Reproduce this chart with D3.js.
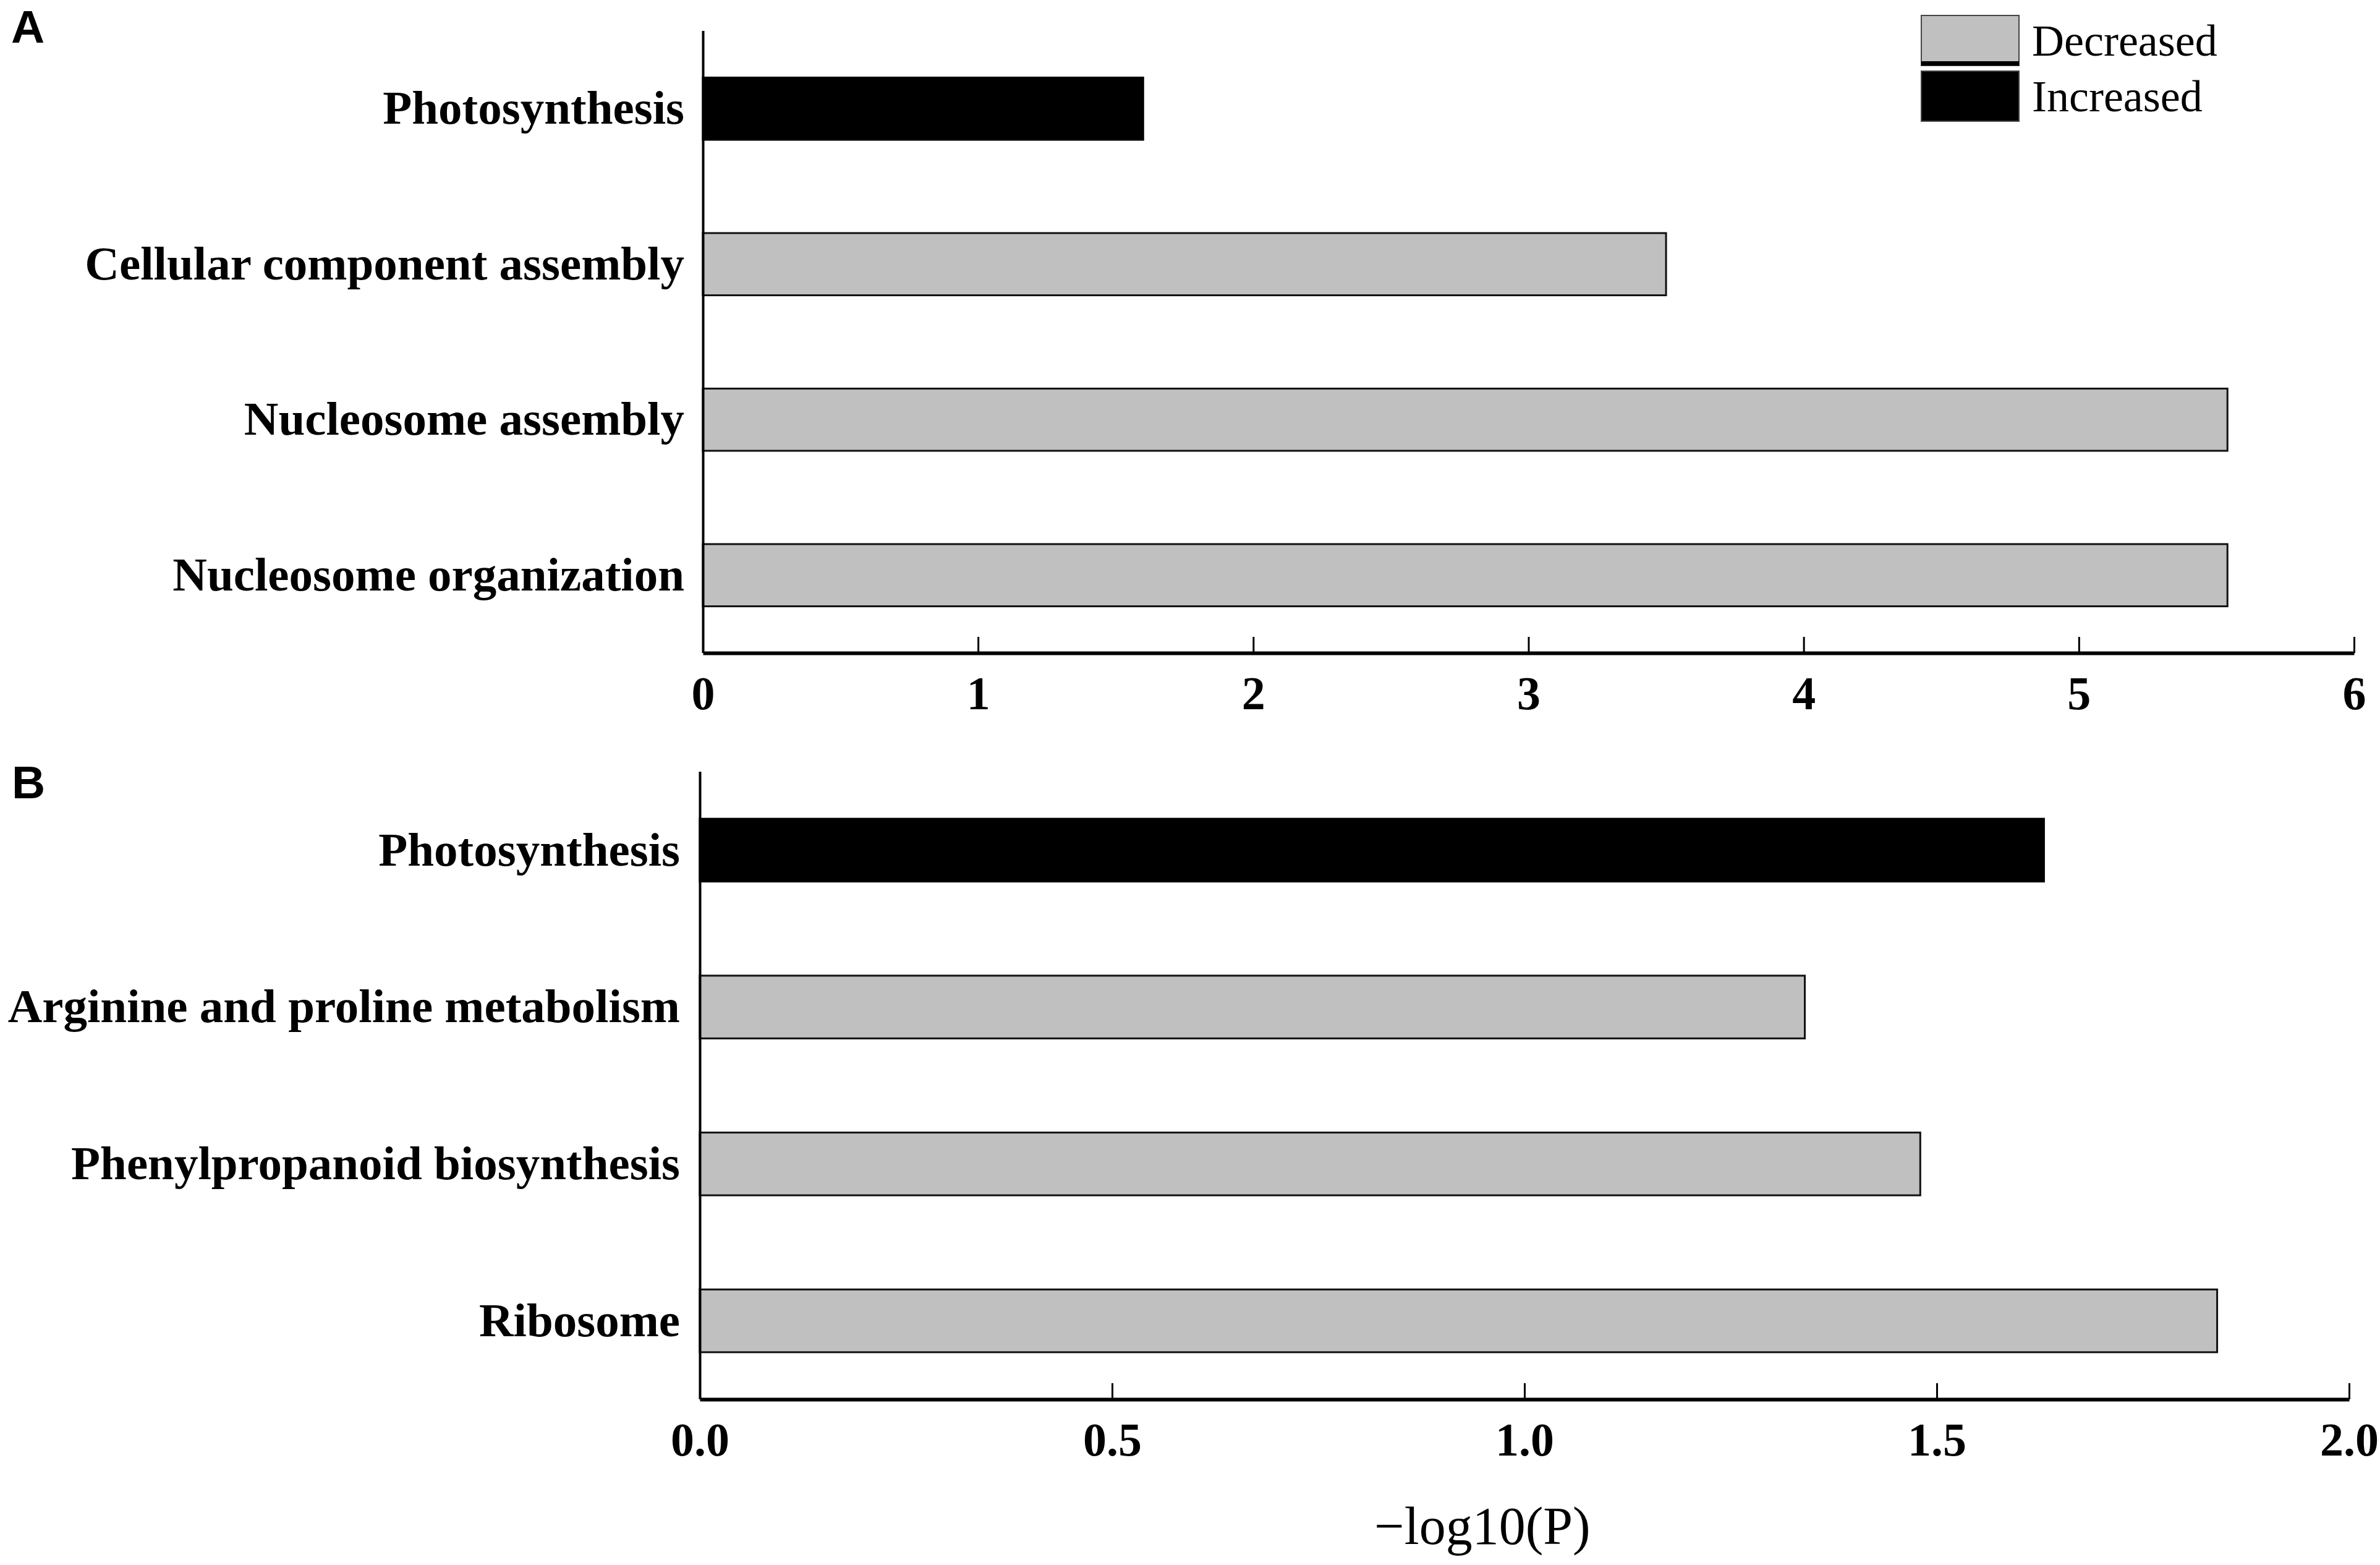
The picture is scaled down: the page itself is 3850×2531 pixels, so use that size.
<!DOCTYPE html>
<html>
<head>
<meta charset="utf-8">
<script src="https://cdn.jsdelivr.net/npm/d3@7"></script>
<style>
  body { margin: 0; background: #fff; }
  svg { display: block; }
</style>
</head>
<body>
<div id="plot"></div>
<script>
// Panel A: GO terms
const termsA = ["Photosynthesis", "Cellular component assembly", "Nucleosome assembly", "Nucleosome organization"];
const valuesA = [1.6, 3.5, 5.54, 5.54];
const changeA = ["Increased", "Decreased", "Decreased", "Decreased"];
const ticksA = [0, 1, 2, 3, 4, 5, 6];

// Panel B: KEGG pathways
const termsB = ["Photosynthesis", "Arginine and proline metabolism", "Phenylpropanoid biosynthesis", "Ribosome"];
const valuesB = [1.63, 1.34, 1.48, 1.84];
const changeB = ["Increased", "Decreased", "Decreased", "Decreased"];
const ticksB = [0, 0.5, 1.0, 1.5, 2.0];

const seriesNames = ["Decreased", "Increased"];
const seriesColors = ["#c0c0c0", "#000000"];

const W = 3850, H = 2531;
const serif = "'Liberation Serif', 'Times New Roman', serif";
const sans = "'Liberation Sans', Arial, sans-serif";

const color = d3.scaleOrdinal().domain(seriesNames).range(seriesColors);

const svg = d3.select("#plot")
  .append("svg")
  .attr("width", W)
  .attr("height", H);

function drawPanel(p) {
  const rows = p.terms.map((t, i) => ({ term: t, value: p.values[i], change: p.change[i] }));

  const x = d3.scaleLinear()
    .domain([0, d3.max(p.ticks)])
    .range([p.left, p.right]);

  const y = d3.scaleBand()
    .domain(p.terms)
    .range([p.top, p.bottom])
    .paddingInner(0.6)
    .paddingOuter(0.3);

  // bars
  svg.append("g").selectAll("rect")
    .data(rows)
    .enter()
    .append("rect")
    .attr("x", x(0))
    .attr("y", d => y(d.term))
    .attr("width", d => x(d.value) - x(0))
    .attr("height", y.bandwidth())
    .attr("fill", d => color(d.change))
    .attr("stroke", d => d.change === "Increased" ? "#000" : "#111")
    .attr("stroke-width", 3);

  // x axis, ticks pointing inward
  const xAxis = svg.append("g")
    .attr("transform", `translate(0, ${p.bottom})`)
    .call(d3.axisBottom(x)
      .tickValues(p.ticks)
      .tickFormat(p.fmt)
      .tickSizeInner(-26)
      .tickSizeOuter(0)
      .tickPadding(37));
  xAxis.select(".domain").attr("stroke-width", 6);
  xAxis.selectAll(".tick line").attr("stroke-width", 3);
  xAxis.selectAll("text")
    .style("font-family", serif)
    .style("font-weight", "bold")
    .style("font-size", "76px")
    .attr("fill", "#000");

  // y axis with category labels
  const yAxis = svg.append("g")
    .attr("transform", `translate(${p.left}, 0)`)
    .call(d3.axisLeft(y).tickSize(0).tickPadding(p.labelPad));
  yAxis.select(".domain")
    .attr("d", `M0.5,${p.top}V${p.bottom}`)
    .attr("stroke-width", 4);
  yAxis.selectAll("text")
    .style("font-family", serif)
    .style("font-weight", "bold")
    .style("font-size", "77px")
    .attr("fill", "#000");

  // panel letter
  svg.append("text")
    .attr("x", p.letterX)
    .attr("y", p.letterY)
    .style("font-family", sans)
    .style("font-weight", "bold")
    .style("font-size", "75px")
    .text(p.letter);

  return x;
}

drawPanel({
  terms: termsA, values: valuesA, change: changeA, ticks: ticksA,
  fmt: d3.format("d"),
  left: 1137, right: 3808, top: 50, bottom: 1056,
  labelPad: 30, letter: "A", letterX: 18, letterY: 69
});

drawPanel({
  terms: termsB, values: valuesB, change: changeB, ticks: ticksB,
  fmt: d3.format(".1f"),
  left: 1132, right: 3800, top: 1248, bottom: 2263,
  labelPad: 32, letter: "B", letterX: 19, letterY: 1291
});

// x axis title
svg.append("text")
  .attr("x", 2398)
  .attr("y", 2497)
  .attr("text-anchor", "middle")
  .style("font-family", serif)
  .style("font-size", "86px")
  .text("\u2212log10(P)");

// legend
const legend = svg.append("g")
  .attr("transform", "translate(3108, 25)");

const items = legend.selectAll("g")
  .data(seriesNames)
  .enter()
  .append("g")
  .attr("transform", (d, i) => `translate(0, ${i * 90})`);

items.append("rect")
  .attr("width", 158)
  .attr("height", 81)
  .attr("fill", d => color(d))
  .attr("stroke", "#444")
  .attr("stroke-width", 2);

// dark rule under the grey swatch
items.filter(d => d === "Decreased")
  .append("rect")
  .attr("y", 74)
  .attr("width", 158)
  .attr("height", 7)
  .attr("fill", "#000");

items.append("text")
  .attr("x", 179)
  .attr("y", 65)
  .style("font-family", serif)
  .style("font-size", "72px")
  .text(d => d);
</script>
</body>
</html>
